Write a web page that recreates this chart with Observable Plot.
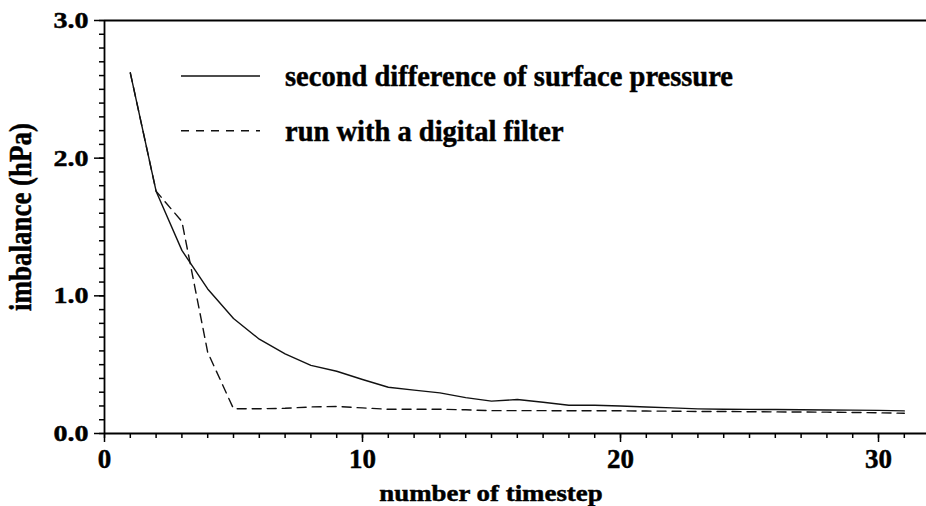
<!DOCTYPE html>
<html><head><meta charset="utf-8">
<script src="https://cdn.jsdelivr.net/npm/d3@7"></script>
<script src="https://cdn.jsdelivr.net/npm/@observablehq/plot@0.6"></script>
<style>body{margin:0;background:#fff} svg{display:block} svg text{stroke:#000;stroke-width:0.45px;paint-order:stroke}</style>
</head><body><div id="chart"></div>
<script>
// ---- data ----
const timestep = [1,2,3,4,5,6,7,8,9,10,11,12,13,14,15,16,17,18,19,20,21,22,23,24,25,26,27,28,29,30,31];
const secondDifference = [2.62,1.76,1.33,1.05,0.835,0.685,0.578,0.495,0.452,0.392,0.336,0.315,0.295,0.261,0.235,0.247,0.227,0.205,0.205,0.200,0.193,0.186,0.179,0.176,0.175,0.174,0.172,0.171,0.170,0.168,0.164];
const digitalFilter = [2.62,1.76,1.54,0.59,0.180,0.180,0.183,0.193,0.196,0.186,0.176,0.176,0.176,0.172,0.166,0.166,0.166,0.165,0.165,0.165,0.163,0.162,0.160,0.160,0.158,0.157,0.156,0.155,0.153,0.150,0.147];
const xTicks = [0,10,20,30];
const xMinorTicks = [0,1,2,3,4,5,6,7,8,9,10,11,12,13,14,15,16,17,18,19,20,21,22,23,24,25,26,27,28,29,30,31];
const yTicks = [0,1,2,3];
const yMinorTicks = [0,0.1,0.2,0.3,0.4,0.5,0.6,0.7,0.8,0.9,1,1.1,1.2,1.3,1.4,1.5,1.6,1.7,1.8,1.9,2,2.1,2.2,2.3,2.4,2.5,2.6,2.7,2.8,2.9,3];
const seriesNames = ["second difference of surface pressure", "run with a digital filter"];
const xTitle = "number of timestep";
const yTitle = "imbalance (hPa)";

const solidData = timestep.map((t,i) => ({t, v: secondDifference[i]}));
const dashedData = timestep.map((t,i) => ({t, v: digitalFilter[i]}));

const FONT = "'Liberation Serif','Times New Roman',serif";

const plot = Plot.plot({
  width: 926, height: 506,
  marginLeft: 104, marginRight: 0, marginTop: 20, marginBottom: 73,
  style: {fontFamily: FONT, fontWeight: "bold", background: "white", color: "black", overflow: "visible"},
  x: {domain: [0, 31.86], label: null},
  y: {domain: [0, 3], label: null},
  marks: [
    Plot.axisX({ticks: xMinorTicks, tickSize: 5, text: null, label: null, strokeWidth: 1.5}),
    Plot.axisX({ticks: xTicks, tickSize: 9, tickPadding: 6, fontSize: 27, label: null, strokeWidth: 1.5, tickFormat: d => String(d)}),
    Plot.axisY({ticks: yMinorTicks, tickSize: 5, text: null, label: null, strokeWidth: 1.5}),
    Plot.axisY({ticks: yTicks, tickSize: 10, tickPadding: 6, fontSize: 23, label: null, strokeWidth: 1.5, tickFormat: d3.format(".1f")}),
    Plot.ruleX([0], {y1: 0, y2: 3, strokeWidth: 1.8}),
    Plot.ruleY([0], {strokeWidth: 1.8}),
    Plot.ruleY([3], {strokeWidth: 1.8}),
    Plot.line(solidData, {x: "t", y: "v", stroke: "#111", strokeWidth: 1.4}),
    Plot.line(dashedData, {x: "t", y: "v", stroke: "#111", strokeWidth: 1.4, strokeDasharray: "9,6"})
  ]
});
document.getElementById("chart").appendChild(plot);

const svg = d3.select(plot);
// horizontally stretched lettering as in the reference
function stretch(sel, sx) {
  sel.each(function() {
    const el = d3.select(this);
    let tr = el.attr("transform");
    if (!tr) tr = `translate(${el.attr("x")||0},${el.attr("y")||0})`, el.attr("x", null).attr("y", null);
    el.attr("transform", tr + ` scale(${sx},1)`);
  });
}
stretch(svg.selectAll('g[aria-label="y-axis tick label"] text'), 1.22);

// axis titles
svg.append("text").text(xTitle)
  .attr("text-anchor", "middle").attr("font-size", 24).attr("font-weight", "bold").attr("font-family", FONT)
  .attr("transform", `translate(491,501) scale(1.12,1)`);
svg.append("text").text(yTitle)
  .attr("text-anchor", "middle").attr("font-size", 27).attr("font-weight", "bold").attr("font-family", FONT)
  .attr("transform", `translate(31,217) rotate(-90) scale(1,1.2)`);

// legend
const leg = svg.append("g").attr("font-family", FONT).attr("font-weight", "bold").attr("font-size", 28.5)
  .attr("text-anchor", "start");
const dashes = ["none", "8,7"];
seriesNames.forEach((name, i) => {
  const y = 76 + i * 54.7;
  leg.append("line").attr("x1", 181).attr("x2", 260).attr("y1", y).attr("y2", y)
    .attr("stroke", "#111").attr("stroke-width", 1.4).attr("stroke-dasharray", dashes[i]);
  leg.append("text").text(name).attr("text-anchor", "start")
    .attr("transform", `translate(285,${y + 10})`);
});
</script>
</body></html>
